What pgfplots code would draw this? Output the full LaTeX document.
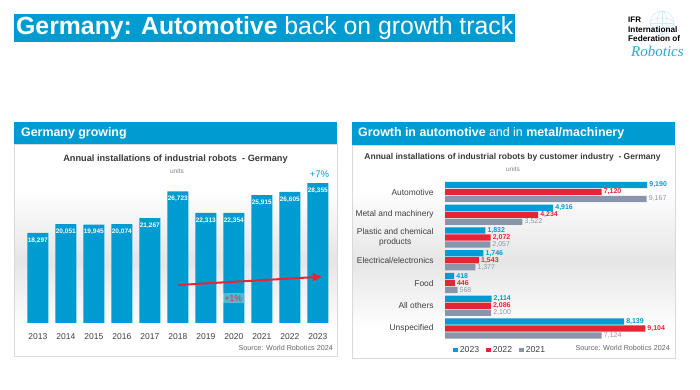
\documentclass[border=0pt]{standalone}
\usepackage{fontspec}
\setmainfont{Liberation Sans}
\newfontfamily\serifit{Liberation Serif}
\usepackage{pgfplots}
\pgfplotsset{compat=1.18}
\usetikzlibrary{arrows.meta}
\definecolor{ifrblue}{HTML}{009BD0}
\definecolor{ifrred}{HTML}{E52535}
\definecolor{ifrgrey}{HTML}{8A94AA}
\definecolor{txt}{HTML}{404040}
\definecolor{ttl}{HTML}{3A3A3A}
\newcommand\fs[1]{\fontsize{#1}{#1}\selectfont}
\begin{document}
\begin{tikzpicture}[x=1pt,y=1pt]
\path[use as bounding box, fill=white] (0,0) rectangle (700,390);
% ---- slide title
\fill[ifrblue] (14,348) rectangle (515,376);
\node[anchor=base west, inner sep=0, text=white, font=\fs{24.8}] at (16,355) {\textbf{Germany: Automotive} back on growth track};
% ---- logo
\begin{scope}[cyan!22, line width=0.5pt]
\draw (662,367) circle (12);
\draw (662,367) ellipse (5 and 12);
\draw (662,367) ellipse (12 and 5);
\draw (650,367) -- (674,367);
\draw (662,355) -- (662,379);
\end{scope}
\node[anchor=base west, inner sep=0, font=\bfseries\fs{8}] at (628,367.3) {IFR};
\node[anchor=base west, inner sep=0, font=\bfseries\fs{8.2}] at (628,357) {International};
\node[anchor=base west, inner sep=0, font=\bfseries\fs{8.2}] at (628,348.3) {Federation of};
\node[anchor=west, inner sep=0, text=ifrblue!85, font=\serifit\itshape\fs{15}] at (631,338.3) {Robotics};
% ---- left panel
\fill[white] (14,34) rectangle (337,246);
\shade[top color=white, bottom color=white, middle color=gray!20] (14,60) rectangle (337,200);
\draw[gray!30] (14,34) rectangle (337,246);
\fill[ifrblue] (14,245.7) rectangle (337,267.7);
\node[anchor=west, inner sep=0, text=white, font=\bfseries\fs{12.4}] at (21,256.7) {Germany growing};
\node[inner sep=0, text=ttl, font=\bfseries\fs{9.2}] at (175.5,231) {Annual installations of industrial robots\ \ - Germany};
\node[inner sep=0, text=gray, font=\fs{6.5}] at (177,219) {units};
\node[inner sep=0, text=ifrblue, font=\fs{9.5}] at (319.5,216) {+7\%};
\node[anchor=east, inner sep=0, text=gray!80!black, font=\fs{7.2}] at (333,41.7) {Source: World Robotics 2024};
\begin{axis}[at={(21pt,67pt)}, anchor=south west, scale only axis,
  width=313.6pt, height=147.9pt,
  xmin=2012.4, xmax=2023.6, ymin=0, ymax=30000,
  ybar, bar width=21pt, clip=false,
  axis line style={draw=none}, tick style={draw=none},
  ytick=\empty,
  xtick={2013,2014,2015,2016,2017,2018,2019,2020,2021,2022,2023},
  xticklabels={2013,2014,2015,2016,2017,2018,2019,2020,2021,2022,2023},
  xticklabel style={font=\fs{8.5}, text=txt, inner sep=0pt, yshift=-6pt},
  /pgf/number format/assume math mode=true,
  nodes near coords={\pgfmathprintnumber[fixed,precision=0,1000 sep={,},assume math mode=true]{\pgfplotspointmeta}},
  every node near coord/.append style={font=\bfseries\fs{6.5}, text=white, anchor=center, yshift=-7.5pt},
]
\addplot[fill=ifrblue, draw=none] coordinates {
 (2013,18297) (2014,20051) (2015,19945) (2016,20074) (2017,21267) (2018,26723)
 (2019,22313) (2020,22354) (2021,25915) (2022,26605) (2023,28355)};
\draw[ifrred, line width=2pt, -{Triangle[length=9pt,width=8pt]}] (axis cs:2018.02,7708) -- (axis cs:2023.14,9391);
\end{axis}
\node[fill=white, fill opacity=0.3, text opacity=1, text=ifrred, font=\fs{8.6}, inner sep=2pt] at (233.3,91.7) {+1\%};
% ---- right panel
\fill[white] (352,32) rectangle (675,245);
\shade[top color=white, bottom color=white, middle color=gray!20] (352,60) rectangle (675,200);
\draw[gray!30] (352,32) rectangle (675,245);
\fill[ifrblue] (351.7,245) rectangle (675,268);
\node[anchor=west, inner sep=0, text=white, font=\fs{12.4}] at (358,256.5) {\textbf{Growth in automotive} and in \textbf{metal/machinery}};
\node[inner sep=0, text=ttl, font=\bfseries\fs{8.5}] at (512.5,233) {Annual installations of industrial robots by customer industry\ \ - Germany};
\node[inner sep=0, text=gray, font=\fs{6.5}] at (513,221) {units};
\node[anchor=east, inner sep=0, text=gray!80!black, font=\fs{7.2}] at (670,41.7) {Source: World Robotics 2024};
\begin{axis}[at={(445pt,47.85pt)}, anchor=south west, scale only axis,
  width=220pt, height=163.8pt,
  xmin=0, xmax=10000, ymin=-0.6, ymax=6.6,
  xbar, bar width=6.3pt, clip=false,
  axis line style={draw=none}, tick style={draw=none},
  xtick=\empty,
  ytick={0,1,2,3,4,5,6},
  yticklabels={Unspecified,All others,Food,Electrical/electronics,{Plastic and chemical\\products},Metal and machinery,Automotive},
  yticklabel style={font=\fontsize{8.4}{10}\selectfont, text=txt, align=center, inner sep=0pt, xshift=-7pt},
  /pgf/number format/assume math mode=true,
  point meta=x,
  nodes near coords={\pgfmathprintnumber[fixed,precision=0,1000 sep={,},assume math mode=true]{\pgfplotspointmeta}},
  every node near coord/.append style={inner sep=2pt},
  legend style={draw=none, fill=none, at={(0.023,-0.048)}, anchor=west, legend columns=3,
    font=\fs{8.7}, text=txt, /tikz/every even column/.append style={column sep=5pt}},
  legend image code/.code={\fill (0pt,-2.3pt) rectangle (4.6pt,2.3pt);},
]
\addplot[fill=ifrblue, draw=none, bar shift=7pt,
  every node near coord/.append style={text=ifrblue, font=\bfseries\fs{7}}] coordinates {
 (8139,0) (2114,1) (418,2) (1746,3) (1832,4) (4916,5) (9190,6)};
\addplot[fill=ifrred, draw=none, bar shift=0pt,
  every node near coord/.append style={text=ifrred, font=\bfseries\fs{7}}] coordinates {
 (9104,0) (2086,1) (446,2) (1543,3) (2072,4) (4234,5) (7120,6)};
\addplot[fill=ifrgrey, draw=none, bar shift=-7pt,
  every node near coord/.append style={text=ifrgrey, font=\fs{7}}] coordinates {
 (7124,0) (2100,1) (568,2) (1377,3) (2057,4) (3522,5) (9167,6)};
\legend{2023,2022,2021}
\end{axis}
\end{tikzpicture}
\end{document}
